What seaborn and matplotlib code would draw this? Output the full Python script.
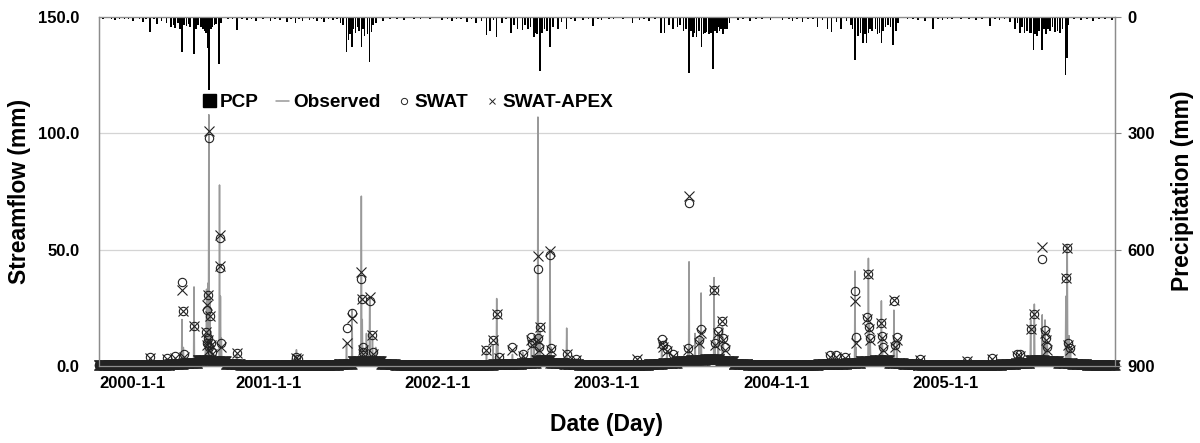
import numpy as np
import pandas as pd
import matplotlib
matplotlib.use("Agg")
import matplotlib.pyplot as plt
from matplotlib.patches import Patch
from matplotlib.lines import Line2D
import seaborn as sns

# monthly base flow (mm), Jan..Dec, one row per year 2000-2005
base_flow = [
    0.3, 0.3, 0.3, 0.4, 0.5, 0.8, 1.2, 2.5, 2.0, 1.0, 0.6, 0.5,
    0.4, 0.4, 0.6, 0.5, 0.5, 1.0, 2.0, 2.0, 1.0, 0.6, 0.5, 0.4,
    0.4, 0.3, 0.3, 0.5, 1.0, 1.0, 1.5, 2.5, 1.5, 1.0, 0.6, 0.5,
    0.4, 0.4, 0.6, 1.0, 1.5, 2.0, 2.5, 3.0, 2.0, 0.8, 0.5, 0.4,
    0.3, 0.3, 0.3, 0.8, 1.0, 1.5, 2.0, 2.5, 1.5, 0.8, 0.6, 0.5,
    0.4, 0.4, 0.5, 0.6, 0.8, 1.5, 2.5, 2.0, 1.5, 0.8, 0.6, 0.5,
]

# storm days (date, mm)
obs_events = [
    ('2000-04-20', 3), ('2000-05-26', 2.5), ('2000-06-13', 3), ('2000-06-28', 20),
    ('2000-07-01', 8), ('2000-07-24', 34), ('2000-08-18', 14), ('2000-08-20', 33),
    ('2000-08-21', 28), ('2000-08-23', 35.6), ('2000-08-25', 108), ('2000-08-27', 30),
    ('2000-08-29', 15), ('2000-09-01', 8), ('2000-09-17', 77.8), ('2000-09-19', 30),
    ('2000-09-21', 12), ('2000-10-24', 5),
    ('2001-02-20', 3), ('2001-03-02', 7), ('2001-06-18', 10), ('2001-06-30', 24),
    ('2001-07-20', 73), ('2001-07-22', 20), ('2001-07-31', 14), ('2001-08-07', 30),
    ('2001-08-13', 13), ('2001-08-20', 8),
    ('2002-04-16', 6), ('2002-04-30', 9), ('2002-05-08', 29), ('2002-05-10', 10),
    ('2002-06-11', 5), ('2002-07-03', 6), ('2002-07-22', 10), ('2002-07-28', 8),
    ('2002-08-05', 107), ('2002-08-10', 15), ('2002-08-31', 50), ('2002-09-02', 8),
    ('2002-10-06', 16.3), ('2002-10-27', 3),
    ('2003-03-06', 2), ('2003-04-29', 8), ('2003-05-10', 6), ('2003-05-23', 4),
    ('2003-06-25', 6), ('2003-06-27', 44.8), ('2003-07-10', 14), ('2003-07-19', 12),
    ('2003-07-23', 31.4), ('2003-08-20', 38), ('2003-08-22', 10), ('2003-08-29', 14),
    ('2003-09-07', 17), ('2003-09-09', 10),
    ('2004-04-26', 3), ('2004-05-10', 3), ('2004-05-28', 3), ('2004-06-19', 40.8),
    ('2004-06-21', 8), ('2004-07-18', 46.3), ('2004-07-20', 18), ('2004-07-22', 10),
    ('2004-08-15', 28), ('2004-08-17', 12), ('2004-09-11', 24), ('2004-09-17', 10),
    ('2004-11-06', 2),
    ('2005-02-15', 2), ('2005-04-10', 3), ('2005-06-03', 4), ('2005-06-10', 4),
    ('2005-07-03', 20), ('2005-07-11', 26.6), ('2005-07-28', 22), ('2005-08-03', 19.8),
    ('2005-08-08', 10), ('2005-09-17', 30), ('2005-09-20', 52), ('2005-09-24', 13),
    ('2005-09-27', 8),
]

swat_events = [
    ('2000-04-20', 4), ('2000-05-26', 3.5), ('2000-06-13', 4.5), ('2000-06-28', 36),
    ('2000-07-01', 23.6), ('2000-07-03', 5), ('2000-07-24', 17), ('2000-08-18', 14.6),
    ('2000-08-20', 10), ('2000-08-21', 24), ('2000-08-23', 30.5), ('2000-08-24', 12),
    ('2000-08-25', 98), ('2000-08-26', 8), ('2000-08-27', 21.5), ('2000-08-29', 10),
    ('2000-08-31', 6), ('2000-09-17', 55), ('2000-09-19', 42), ('2000-09-21', 9.9),
    ('2000-10-24', 5.6),
    ('2001-03-02', 4), ('2001-03-05', 3), ('2001-06-18', 16.2), ('2001-06-30', 22.9),
    ('2001-07-20', 37.3), ('2001-07-21', 28.8), ('2001-07-23', 8), ('2001-07-24', 6),
    ('2001-08-07', 28.1), ('2001-08-13', 13.3), ('2001-08-15', 6),
    ('2002-04-16', 6.9), ('2002-04-30', 11.2), ('2002-05-08', 22.2), ('2002-05-12', 4),
    ('2002-06-11', 8.3), ('2002-07-03', 5), ('2002-07-22', 12.5), ('2002-07-24', 10),
    ('2002-08-05', 41.5), ('2002-08-06', 12), ('2002-08-07', 8), ('2002-08-10', 16.9),
    ('2002-08-31', 47.7), ('2002-09-02', 7.7), ('2002-10-06', 5), ('2002-10-27', 3),
    ('2003-03-06', 2.5), ('2003-04-29', 11.5), ('2003-05-01', 9), ('2003-05-10', 7.3),
    ('2003-05-23', 5), ('2003-06-25', 7.7), ('2003-06-27', 70), ('2003-07-19', 11.2),
    ('2003-07-23', 15.9), ('2003-08-20', 32.7), ('2003-08-22', 9.9), ('2003-08-29', 15),
    ('2003-09-07', 19.5), ('2003-09-09', 12), ('2003-09-12', 8),
    ('2004-04-26', 4.7), ('2004-05-10', 4.7), ('2004-05-28', 4), ('2004-06-19', 32.2),
    ('2004-06-21', 12.3), ('2004-07-16', 20.9), ('2004-07-18', 39.4), ('2004-07-20', 16.9),
    ('2004-07-22', 12), ('2004-08-15', 18.6), ('2004-08-17', 13), ('2004-08-19', 8),
    ('2004-09-11', 28), ('2004-09-14', 9), ('2004-09-17', 12.3), ('2004-11-06', 3),
    ('2005-02-15', 2), ('2005-04-10', 3.6), ('2005-06-03', 5), ('2005-06-10', 5),
    ('2005-07-03', 15.7), ('2005-07-11', 22.2), ('2005-07-28', 45.9), ('2005-08-03', 15.5),
    ('2005-08-05', 12), ('2005-08-08', 8), ('2005-09-17', 38), ('2005-09-20', 50.6),
    ('2005-09-21', 9.8), ('2005-09-25', 7.7),
]

apex_events = [
    ('2000-04-20', 3.5), ('2000-05-26', 3), ('2000-06-13', 3.5), ('2000-06-28', 32.7),
    ('2000-07-01', 23.6), ('2000-07-03', 4), ('2000-07-24', 17), ('2000-08-18', 14.6),
    ('2000-08-20', 9), ('2000-08-21', 26.2), ('2000-08-23', 30.5), ('2000-08-24', 11),
    ('2000-08-25', 101), ('2000-08-26', 7), ('2000-08-27', 21.5), ('2000-08-29', 9),
    ('2000-08-31', 5), ('2000-09-17', 56.3), ('2000-09-19', 43), ('2000-09-21', 8),
    ('2000-10-24', 5.6),
    ('2001-03-02', 3.5), ('2001-03-05', 3), ('2001-06-18', 9.8), ('2001-06-30', 20.6),
    ('2001-07-20', 40.5), ('2001-07-21', 28.8), ('2001-07-23', 7), ('2001-07-24', 5),
    ('2001-08-07', 29.8), ('2001-08-13', 13.3), ('2001-08-15', 5),
    ('2002-04-16', 6.9), ('2002-04-30', 11.2), ('2002-05-08', 22.2), ('2002-05-12', 3.5),
    ('2002-06-11', 7), ('2002-07-03', 4.5), ('2002-07-22', 11), ('2002-07-24', 9),
    ('2002-08-05', 47.3), ('2002-08-06', 11), ('2002-08-07', 7), ('2002-08-10', 16.9),
    ('2002-08-31', 49.6), ('2002-09-02', 7), ('2002-10-06', 5), ('2002-10-27', 2.5),
    ('2003-03-06', 3), ('2003-04-29', 10), ('2003-05-01', 8), ('2003-05-10', 6.5),
    ('2003-05-23', 4.5), ('2003-06-25', 7), ('2003-06-27', 73), ('2003-07-19', 10),
    ('2003-07-23', 14), ('2003-08-20', 32.7), ('2003-08-22', 9), ('2003-08-29', 14),
    ('2003-09-07', 19.5), ('2003-09-09', 11), ('2003-09-12', 7),
    ('2004-04-26', 4), ('2004-05-10', 4), ('2004-05-28', 3.5), ('2004-06-19', 28),
    ('2004-06-21', 9.9), ('2004-07-16', 20), ('2004-07-18', 39.4), ('2004-07-20', 16),
    ('2004-07-22', 11), ('2004-08-15', 18.6), ('2004-08-17', 12), ('2004-08-19', 7),
    ('2004-09-11', 28.5), ('2004-09-14', 8), ('2004-09-17', 11), ('2004-11-06', 2.5),
    ('2005-02-15', 2), ('2005-04-10', 3), ('2005-06-03', 4.5), ('2005-06-10', 4.5),
    ('2005-07-03', 15.7), ('2005-07-11', 22.2), ('2005-07-28', 51.3), ('2005-08-03', 14),
    ('2005-08-05', 11), ('2005-08-08', 7), ('2005-09-17', 38), ('2005-09-20', 50.6),
    ('2005-09-21', 9), ('2005-09-25', 7),
]

pcp_events = [
    # 2000
    ('2000-01-10', 5), ('2000-01-20', 3), ('2000-01-28', 4), ('2000-02-05', 8),
    ('2000-02-14', 4), ('2000-02-25', 6), ('2000-03-05', 5), ('2000-03-15', 10),
    ('2000-03-28', 6), ('2000-04-05', 12), ('2000-04-12', 5), ('2000-04-20', 38),
    ('2000-04-28', 6), ('2000-05-05', 18), ('2000-05-15', 10), ('2000-05-26', 15),
    ('2000-06-05', 25), ('2000-06-10', 20), ('2000-06-13', 28), ('2000-06-20', 15),
    ('2000-06-24', 30), ('2000-06-28', 90), ('2000-07-03', 20), ('2000-07-08', 22),
    ('2000-07-12', 18), ('2000-07-16', 25), ('2000-07-24', 96), ('2000-07-28', 30),
    ('2000-08-02', 20), ('2000-08-08', 25), ('2000-08-12', 30), ('2000-08-16', 35),
    ('2000-08-19', 40), ('2000-08-23', 81), ('2000-08-25', 189), ('2000-08-29', 30),
    ('2000-09-01', 25), ('2000-09-06', 20), ('2000-09-10', 18), ('2000-09-16', 122),
    ('2000-09-20', 15), ('2000-10-05', 6), ('2000-10-15', 5), ('2000-10-25', 33),
    ('2000-11-05', 5), ('2000-11-15', 8), ('2000-11-25', 4), ('2000-12-05', 10),
    ('2000-12-20', 6),
    # 2001
    ('2001-01-05', 10), ('2001-01-15', 4), ('2001-01-25', 8), ('2001-02-10', 12),
    ('2001-02-18', 5), ('2001-02-28', 15), ('2001-03-08', 5), ('2001-03-15', 10),
    ('2001-03-30', 8), ('2001-04-08', 5), ('2001-04-15', 10), ('2001-04-25', 6),
    ('2001-05-01', 12), ('2001-05-10', 5), ('2001-05-20', 8), ('2001-05-28', 6),
    ('2001-06-05', 15), ('2001-06-10', 20), ('2001-06-18', 89), ('2001-06-22', 60),
    ('2001-06-26', 45), ('2001-06-30', 77), ('2001-07-03', 30), ('2001-07-07', 40),
    ('2001-07-12', 25), ('2001-07-15', 35), ('2001-07-20', 77), ('2001-07-24', 30),
    ('2001-07-27', 50), ('2001-08-02', 45), ('2001-08-07', 115), ('2001-08-11', 38),
    ('2001-08-14', 20), ('2001-08-20', 15), ('2001-09-05', 10), ('2001-09-20', 5),
    ('2001-10-05', 4), ('2001-10-20', 8), ('2001-11-10', 6), ('2001-11-25', 4),
    ('2001-12-05', 3), ('2001-12-15', 5),
    # 2002
    ('2002-01-10', 8), ('2002-01-22', 4), ('2002-02-01', 10), ('2002-02-10', 4),
    ('2002-02-20', 6), ('2002-03-05', 12), ('2002-03-15', 5), ('2002-03-25', 15),
    ('2002-04-05', 10), ('2002-04-16', 46), ('2002-04-23', 35), ('2002-05-01', 8),
    ('2002-05-08', 51), ('2002-05-20', 15), ('2002-05-28', 6), ('2002-06-08', 42),
    ('2002-06-15', 20), ('2002-06-22', 30), ('2002-07-03', 34), ('2002-07-08', 20),
    ('2002-07-14', 30), ('2002-07-20', 25), ('2002-07-27', 51), ('2002-07-31', 40),
    ('2002-08-03', 45), ('2002-08-09', 139), ('2002-08-14', 40), ('2002-08-19', 30),
    ('2002-08-24', 35), ('2002-08-31', 77), ('2002-09-06', 25), ('2002-09-17', 30),
    ('2002-09-25', 12), ('2002-10-06', 32), ('2002-10-15', 5), ('2002-10-24', 10),
    ('2002-11-10', 8), ('2002-11-22', 4), ('2002-12-02', 24), ('2002-12-12', 5),
    ('2002-12-20', 8),
    # 2003
    ('2003-01-05', 4), ('2003-01-15', 6), ('2003-02-05', 5), ('2003-02-25', 16),
    ('2003-03-12', 8), ('2003-03-22', 5), ('2003-04-02', 10), ('2003-04-15', 6),
    ('2003-04-27', 42), ('2003-05-05', 42), ('2003-05-15', 20), ('2003-05-23', 30),
    ('2003-06-02', 25), ('2003-06-08', 20), ('2003-06-15', 35), ('2003-06-21', 30),
    ('2003-06-27', 144), ('2003-07-01', 35), ('2003-07-05', 51), ('2003-07-09', 40),
    ('2003-07-13', 51), ('2003-07-18', 35), ('2003-07-24', 77), ('2003-07-28', 45),
    ('2003-07-31', 40), ('2003-08-04', 38), ('2003-08-09', 45), ('2003-08-13', 40),
    ('2003-08-18', 133), ('2003-08-22', 35), ('2003-08-26', 40), ('2003-08-30', 25),
    ('2003-09-01', 35), ('2003-09-04', 30), ('2003-09-08', 45), ('2003-09-12', 30),
    ('2003-09-17', 30), ('2003-09-22', 15), ('2003-10-10', 8), ('2003-10-22', 4),
    ('2003-11-05', 10), ('2003-11-18', 4), ('2003-12-01', 6), ('2003-12-20', 8),
    # 2004
    ('2004-01-15', 8), ('2004-01-28', 4), ('2004-02-05', 10), ('2004-02-15', 5),
    ('2004-02-27', 12), ('2004-03-10', 5), ('2004-03-20', 6), ('2004-03-30', 25),
    ('2004-04-10', 8), ('2004-04-21', 30), ('2004-04-29', 38), ('2004-05-10', 12),
    ('2004-05-20', 30), ('2004-06-01', 10), ('2004-06-10', 20), ('2004-06-14', 30),
    ('2004-06-19', 110), ('2004-06-25', 50), ('2004-07-01', 40), ('2004-07-06', 68),
    ('2004-07-10', 45), ('2004-07-14', 68), ('2004-07-18', 40), ('2004-07-21', 30),
    ('2004-07-26', 35), ('2004-08-02', 30), ('2004-08-07', 45), ('2004-08-11', 40),
    ('2004-08-15', 68), ('2004-08-19', 35), ('2004-08-24', 25), ('2004-08-29', 20),
    ('2004-09-04', 25), ('2004-09-09', 72), ('2004-09-15', 35), ('2004-09-20', 15),
    ('2004-10-10', 6), ('2004-10-22', 4), ('2004-11-02', 8), ('2004-11-17', 10),
    ('2004-12-04', 30), ('2004-12-15', 4), ('2004-12-25', 8),
    # 2005
    ('2005-01-05', 4), ('2005-01-15', 6), ('2005-02-03', 6), ('2005-02-20', 4),
    ('2005-03-07', 8), ('2005-03-20', 5), ('2005-04-06', 22), ('2005-04-17', 5),
    ('2005-04-27', 8), ('2005-05-08', 6), ('2005-05-19', 12), ('2005-05-30', 30),
    ('2005-06-05', 15), ('2005-06-10', 42), ('2005-06-15', 25), ('2005-06-20', 42),
    ('2005-06-25', 35), ('2005-07-01', 42), ('2005-07-05', 40), ('2005-07-09', 85),
    ('2005-07-13', 45), ('2005-07-17', 50), ('2005-07-21', 35), ('2005-07-27', 85),
    ('2005-08-01', 30), ('2005-08-05', 45), ('2005-08-09', 30), ('2005-08-14', 35),
    ('2005-08-19', 25), ('2005-08-25', 38), ('2005-08-30', 35), ('2005-09-05', 40),
    ('2005-09-10', 30), ('2005-09-16', 150), ('2005-09-19', 106), ('2005-09-23', 20),
    ('2005-10-05', 5), ('2005-10-20', 8), ('2005-11-01', 4), ('2005-11-15', 10),
    ('2005-11-28', 4), ('2005-12-10', 6), ('2005-12-25', 8),
]

year_ticks = ['2000-01-01', '2001-01-01', '2002-01-01', '2003-01-01', '2004-01-01', '2005-01-01']
year_labels = ['2000-1-1', '2001-1-1', '2002-1-1', '2003-1-1', '2004-1-1', '2005-1-1']


def daily_series(events):
    days = pd.date_range('2000-01-01', '2005-12-31', freq='D')
    month_idx = (days.year - 2000) * 12 + days.month - 1
    s = pd.Series(np.array(base_flow)[month_idx], index=days)
    ev = pd.DataFrame(events, columns=['date', 'val'])
    s.loc[pd.to_datetime(ev['date'])] = ev['val'].values
    return s


df = pd.DataFrame({'obs': daily_series(obs_events),
                   'swat': daily_series(swat_events),
                   'apex': daily_series(apex_events)})
df.index.name = 'date'
df = df.reset_index()
pcp = pd.DataFrame(pcp_events, columns=['date', 'mm'])
pcp['date'] = pd.to_datetime(pcp['date'])

sns.set_theme(style='white')
plt.rcParams['font.family'] = ['Liberation Sans', 'DejaVu Sans']
plt.rcParams['font.weight'] = 'bold'
plt.rcParams['text.color'] = 'black'
plt.rcParams['xtick.color'] = 'black'
plt.rcParams['ytick.color'] = 'black'
plt.rcParams['axes.labelcolor'] = 'black'

fig, ax = plt.subplots(figsize=(12, 4.43), dpi=100)
fig.subplots_adjust(left=99 / 1200, right=1115 / 1200, top=1 - 17 / 443, bottom=1 - 366 / 443)
ax2 = ax.twinx()

mk = '#222222'
sns.lineplot(data=df, x='date', y='obs', ax=ax, color='#999999', lw=1.1,
             estimator=None, sort=False, zorder=2)
sns.lineplot(data=df, x='date', y='swat', ax=ax, estimator=None, sort=False,
             linestyle='none', marker='o', markersize=6, mfc='none', mec=mk,
             mew=0.8, color=mk, clip_on=False, zorder=3)
sns.lineplot(data=df, x='date', y='apex', ax=ax, estimator=None, sort=False,
             linestyle='none', marker='x', markersize=6.5, mec=mk,
             mew=0.8, color=mk, clip_on=False, zorder=4)

ax2.bar(pcp['date'], pcp['mm'], width=3.5, color='black', linewidth=0)

# left axis
ax.set_ylim(0, 150)
ax.set_yticks([0, 50, 100, 150])
ax.set_yticklabels(['%.1f' % v for v in [0, 50, 100, 150]])
ax.grid(axis='y', color='#d4d4d4', lw=0.9)
ax.set_axisbelow(True)
ax.set_xlim(pd.Timestamp('2000-01-01'), pd.Timestamp('2006-01-01'))
ax.set_xticks(pd.to_datetime(year_ticks))
ax.set_xticklabels(year_labels)
ax.get_xticklabels()[0].set_ha('left')
ax.set_xlabel('')
ax.set_ylabel('')
ax.tick_params(axis='y', length=0, pad=14, labelsize=12, labelcolor='black')
ax.tick_params(axis='x', length=0, pad=7, labelsize=12, labelcolor='black')

# right axis
ax2.set_ylim(900, 0)
ax2.set_yticks([0, 300, 600, 900])
ax2.tick_params(axis='y', length=4, width=0.8, color='#888888', pad=5, labelsize=12,
                labelcolor='black')
ax2.set_xlim(pd.Timestamp('2000-01-01'), pd.Timestamp('2006-01-01'))

for a in (ax, ax2):
    for side in ['left', 'right', 'top', 'bottom']:
        a.spines[side].set_color('#8c8c8c')
        a.spines[side].set_linewidth(0.9)
ax.spines['top'].set_color('#d4d4d4')

fig.text(20 / 1200, 1 - 191 / 443, 'Streamflow (mm)', rotation=90, ha='center', va='center',
         fontsize=16.5, fontweight='bold', color='black')
fig.text(1183 / 1200, 1 - 191 / 443, 'Precipitation (mm)', rotation=90, ha='center', va='center',
         fontsize=16.5, fontweight='bold', color='black')
fig.text(607 / 1200, 1 - 425 / 443, 'Date (Day)', ha='center', va='center',
         fontsize=16.5, fontweight='bold', color='black')

handles = [Patch(facecolor='black', edgecolor='black'),
           Line2D([], [], color='#999999', lw=1.1),
           Line2D([], [], linestyle='none', marker='o', markersize=4.5, mfc='none', mec=mk, mew=0.7),
           Line2D([], [], linestyle='none', marker='x', markersize=5, mec=mk, mew=0.7)]
leg = ax2.legend(handles, ['PCP', 'Observed', 'SWAT', 'SWAT-APEX'], loc='center left',
                 bbox_to_anchor=(0.102, 0.755), ncol=4, frameon=False, handlelength=0.7,
                 handletextpad=0.2, columnspacing=0.9, borderpad=0, borderaxespad=0,
                 prop={'weight': 'bold', 'size': 13.7})
for t in leg.get_texts():
    t.set_color('black')

fig.savefig('out.png', dpi=100)
